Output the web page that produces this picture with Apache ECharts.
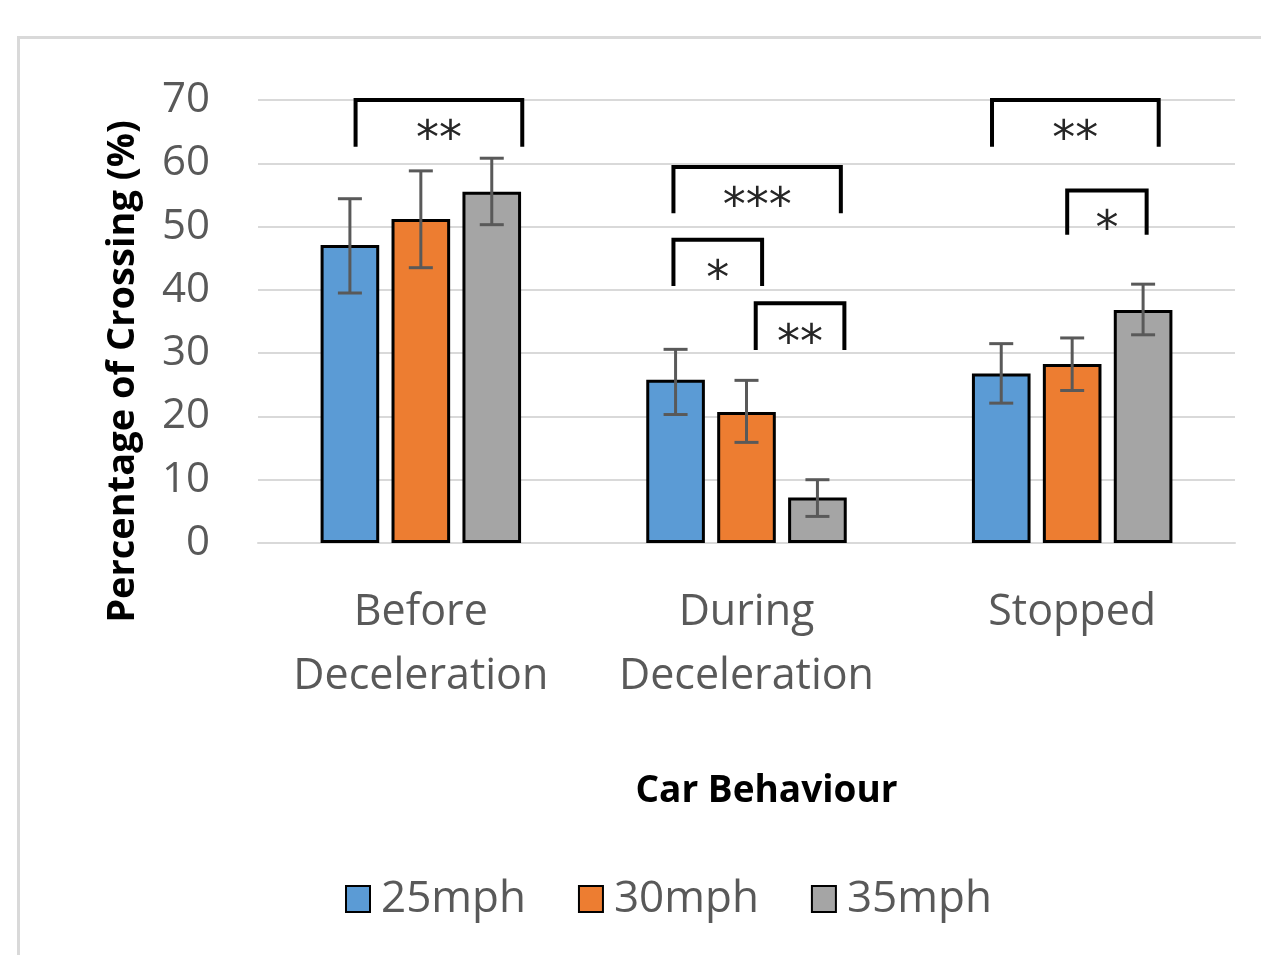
<!DOCTYPE html>
<html>
    <head>
        <meta charset="utf-8">
        <script src="https://cdn.jsdelivr.net/npm/echarts@6/dist/echarts.min.js"></script>
        <style>
            html, body { margin: 0; padding: 0; background: #fff; }
            #main { width: 1261px; height: 955px; }
        </style>
    </head>
    <body>
        <div id="main"></div>
        <script>
            var categories = ['Before\nDeceleration', 'During\nDeceleration', 'Stopped'];
            var seriesNames = ['25mph', '30mph', '35mph'];

            var mph25 = [47.1, 25.8, 26.8];
            var mph30 = [51.2, 20.7, 28.3];
            var mph35 = [55.5, 7.2, 36.8];

            // error bar ends (low, high)
            var low25 = [39.5, 20.3, 22.1];
            var high25 = [54.4, 30.6, 31.5];
            var low30 = [43.5, 15.9, 24.1];
            var high30 = [58.8, 25.7, 32.4];
            var low35 = [50.3, 4.2, 32.9];
            var high35 = [60.8, 10.0, 40.9];

            // significance brackets: category, top value, end value, label
            var bracketCat = [0, 1, 1, 1, 2, 2];
            var bracketTop = [70, 59.4, 47.9, 37.9, 70, 55.7];
            var bracketEnd = [62.6, 52.1, 40.6, 30.5, 62.6, 48.7];
            var bracketLabel = ['**', '***', '*', '**', '**', '*'];
            // horizontal span in bar slots (0 = first bar centre, 2 = last)
            var bracketFrom = [0.08, -0.03, -0.03, 1.13, -0.13, 0.93];
            var bracketTo = [2.43, 2.33, 1.22, 2.38, 2.22, 2.05];

            var colors = ['#5B9BD5', '#ED7D31', '#A5A5A5'];
            var BAR_W = 0.18;
            var BAR_GAP = 0.21;

            var values = [mph25, mph30, mph35];
            var lows = [low25, low30, low35];
            var highs = [high25, high30, high35];

            var errData = [];
            for (var s = 0; s < 3; s++) {
                for (var c = 0; c < categories.length; c++) {
                    errData.push([c, s, lows[s][c], highs[s][c]]);
                }
            }
            var bracketData = [];
            for (var i = 0; i < bracketCat.length; i++) {
                bracketData.push([bracketCat[i], bracketFrom[i], bracketTo[i], bracketTop[i], bracketEnd[i]]);
            }

            function slotStep(api) {
                var band = api.size([1, 0])[0];
                return band * BAR_W * (1 + BAR_GAP);
            }

            var series = [];
            for (var k = 0; k < 3; k++) {
                series.push({
                    name: seriesNames[k],
                    type: 'bar',
                    barWidth: (BAR_W * 100) + '%',
                    barGap: (BAR_GAP * 100) + '%',
                    itemStyle: {color: colors[k], borderColor: '#000', borderWidth: 3},
                    data: values[k]
                });
            }

            series.push({
                type: 'custom',
                z: 5,
                data: errData,
                encode: {x: 0, y: [2, 3]},
                renderItem: function (params, api) {
                    var step = slotStep(api);
                    var lo = api.coord([api.value(0), api.value(2)]);
                    var hi = api.coord([api.value(0), api.value(3)]);
                    var x = lo[0] + (api.value(1) - 1) * step;
                    var cap = 12;
                    var st = {stroke: '#595959', lineWidth: 3};
                    return {
                        type: 'group',
                        children: [
                            {type: 'line', shape: {x1: x, y1: lo[1], x2: x, y2: hi[1]}, style: st},
                            {type: 'line', shape: {x1: x - cap, y1: lo[1], x2: x + cap, y2: lo[1]}, style: st},
                            {type: 'line', shape: {x1: x - cap, y1: hi[1], x2: x + cap, y2: hi[1]}, style: st}
                        ]
                    };
                }
            });

            series.push({
                type: 'custom',
                z: 6,
                data: bracketData,
                encode: {x: 0, y: [3, 4]},
                renderItem: function (params, api) {
                    var step = slotStep(api);
                    var top = api.coord([api.value(0), api.value(3)]);
                    var end = api.coord([api.value(0), api.value(4)]);
                    var x0 = top[0] + (api.value(1) - 1) * step;
                    var x1 = top[0] + (api.value(2) - 1) * step;
                    return {
                        type: 'group',
                        children: [{
                            type: 'polyline',
                            shape: {points: [[x0, end[1]], [x0, top[1]], [x1, top[1]], [x1, end[1]]]},
                            style: {stroke: '#000', lineWidth: 4, fill: null}
                        }, {
                            type: 'text',
                            style: {
                                text: bracketLabel[params.dataIndex],
                                x: (x0 + x1) / 2,
                                y: (top[1] + end[1]) / 2 + 18,
                                align: 'center',
                                verticalAlign: 'middle',
                                fill: '#262626',
                                font: '46px "DejaVu Sans"'
                            }
                        }]
                    };
                }
            });

            var chart = echarts.init(document.getElementById('main'));
            chart.setOption({
                animation: false,
                backgroundColor: '#fff',
                textStyle: {fontFamily: '"Open Sans"'},
                graphic: [{
                    type: 'rect',
                    shape: {x: 18.5, y: 37.5, width: 1400, height: 1100},
                    style: {stroke: '#d9d9d9', lineWidth: 3, fill: null}
                }],
                grid: {
                    left: 258,
                    right: 26,
                    top: 100,
                    bottom: 412,
                    containLabel: false,
                    outerBoundsMode: 'none'
                },
                legend: {
                    data: seriesNames,
                    left: 340,
                    top: 872,
                    icon: 'rect',
                    itemWidth: 24,
                    itemHeight: 26,
                    itemGap: 52,
                    textStyle: {fontSize: 44, color: '#595959', fontFamily: '"Open Sans"', padding: [0, 0, 0, 6]}
                },
                xAxis: {
                    type: 'category',
                    data: categories,
                    name: 'Car Behaviour',
                    nameLocation: 'middle',
                    nameGap: 230,
                    nameTextStyle: {
                        fontSize: 37,
                        fontWeight: 'bold',
                        color: '#000',
                        fontFamily: '"Open Sans"',
                        padding: [0, 0, 0, 40]
                    },
                    axisLine: {lineStyle: {color: '#d9d9d9', width: 2}},
                    axisTick: {show: false},
                    axisLabel: {
                        interval: 0,
                        hideOverlap: false,
                        fontSize: 43,
                        lineHeight: 64,
                        color: '#595959',
                        margin: 38,
                        fontFamily: '"Open Sans"'
                    }
                },
                yAxis: {
                    type: 'value',
                    min: 0,
                    max: 70,
                    interval: 10,
                    name: 'Percentage of Crossing (%)',
                    nameLocation: 'middle',
                    nameGap: 116,
                    nameTextStyle: {
                        fontSize: 38,
                        fontWeight: 'bold',
                        color: '#000',
                        fontFamily: '"Open Sans"',
                        padding: [0, 100, 0, 0]
                    },
                    axisLine: {show: false},
                    axisTick: {show: false},
                    splitLine: {lineStyle: {color: '#d9d9d9', width: 2}},
                    axisLabel: {fontSize: 42, color: '#595959', margin: 48, fontFamily: '"Open Sans"'}
                },
                series: series
            });
        </script>
    </body>
</html>
